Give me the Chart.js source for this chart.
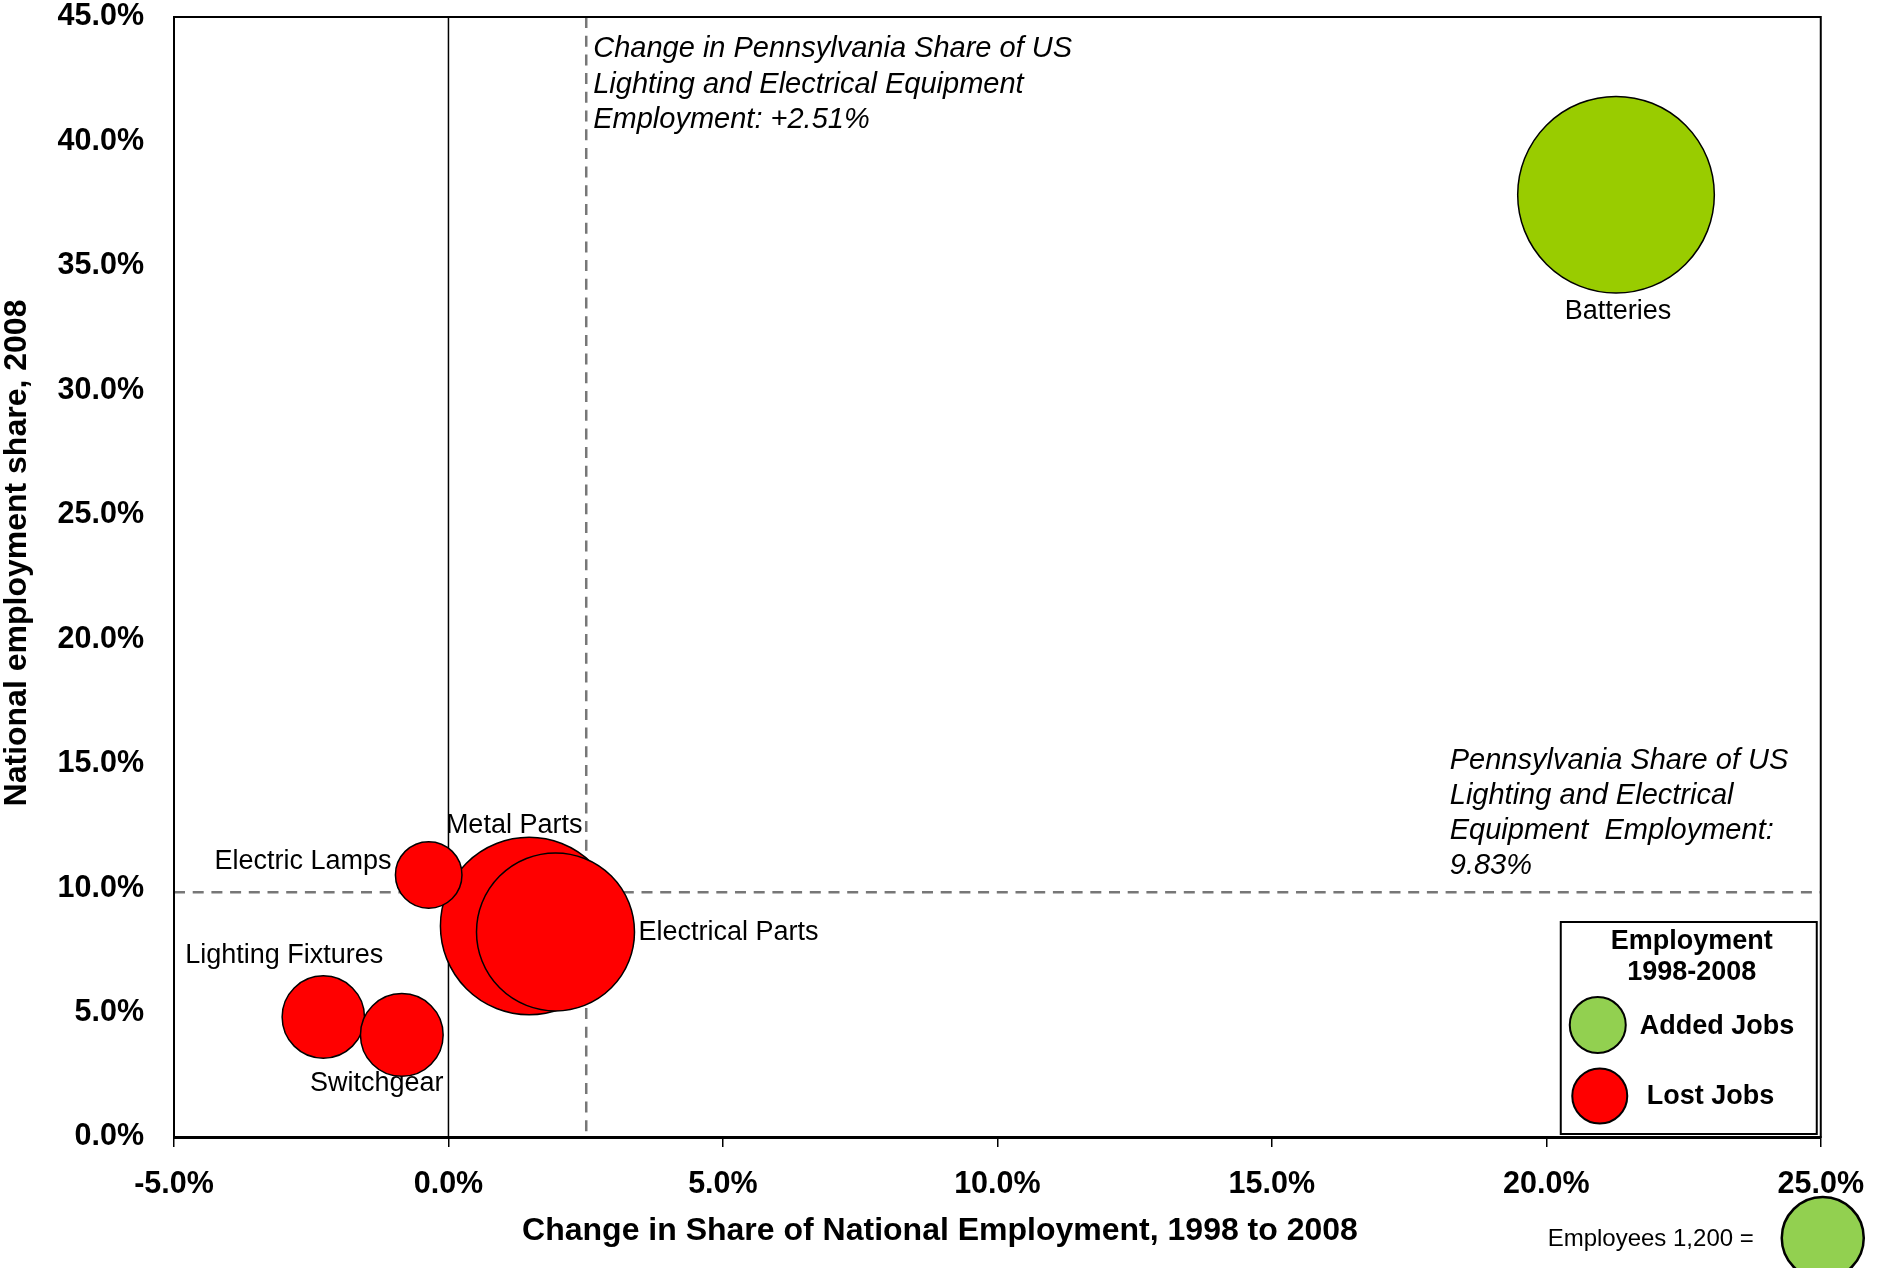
<!DOCTYPE html>
<html>
<head>
<meta charset="utf-8">
<title>Lighting and Electrical Equipment Employment</title>
<script src="https://cdn.jsdelivr.net/npm/chart.js@4/dist/chart.umd.min.js"></script>
<style>
    html, body { margin: 0; padding: 0; background: #fff; }
    #wrap { width: 1883px; height: 1268px; position: relative; }
</style>
</head>
<body>
<div id="wrap"><canvas id="chart"></canvas></div>
<script>
// industry groups, drawing order (later ones sit on top)
const sectors = ['Batteries', 'Metal Parts', 'Electrical Parts', 'Electric Lamps', 'Lighting Fixtures', 'Switchgear'];
// change in share of national employment 1998-2008, %
const shareChange = [21.27, 1.47, 1.95, -0.36, -2.28, -0.85];
// national employment share 2008, %
const nationalShare = [37.86, 8.48, 8.24, 10.53, 4.82, 4.10];
// employees (bubble size)
const employees = [6900, 5620, 4455, 790, 1210, 1220];
// did the group add or lose jobs 1998-2008
const jobTrend = ['Added', 'Lost', 'Lost', 'Lost', 'Lost', 'Lost'];

// Pennsylvania reference values
const paShareChange = 2.51;
const paShare = 9.83;
const sizeKeyEmployees = 1200;

const xTicks = [-5, 0, 5, 10, 15, 20, 25];
const yTicks = [0, 5, 10, 15, 20, 25, 30, 35, 40, 45];

const FONT = "'Liberation Sans', Arial, sans-serif";
const GREEN = '#99CC00';
const KEY_GREEN = '#92D050';
const RED = '#FF0000';

function bubbleRadius(n) {
    return 41 * Math.sqrt(n / sizeKeyEmployees);
}

function pointsFor(trend) {
    const pts = [];
    sectors.forEach((name, i) => {
        if (jobTrend[i] === trend) {
            pts.push({ x: shareChange[i], y: nationalShare[i], r: bubbleRadius(employees[i]), name: name });
        }
    });
    return pts;
}

// where each bubble label goes, relative to the bubble edge
const labelSpots = {
    'Batteries': { side: 'below', dx: 2, dy: 19 },
    'Metal Parts': { side: 'above', dx: -15, dy: 12 },
    'Electrical Parts': { side: 'right', dx: 4, dy: 1 },
    'Electric Lamps': { side: 'left', dx: 4, dy: -13 },
    'Lighting Fixtures': { side: 'above', dx: -39, dy: 20 },
    'Switchgear': { side: 'below', dx: -25, dy: 7 }
};

function circle(c, x, y, r, fill, lw) {
    c.beginPath();
    c.arc(x, y, r, 0, Math.PI * 2);
    c.fillStyle = fill;
    c.fill();
    c.lineWidth = lw;
    c.strokeStyle = '#000';
    c.stroke();
}

const backdrop = {
    id: 'backdrop',
    beforeDatasetsDraw(chart) {
        const c = chart.ctx;
        const a = chart.chartArea;
        const xs = chart.scales.x;
        const ys = chart.scales.y;
        c.save();

        // zero line
        const x0 = xs.getPixelForValue(0);
        c.strokeStyle = '#000';
        c.lineWidth = 1.5;
        c.beginPath();
        c.moveTo(x0, a.top);
        c.lineTo(x0, a.bottom);
        c.stroke();

        // Pennsylvania reference lines
        c.strokeStyle = '#777777';
        c.lineWidth = 2.5;
        c.setLineDash([11, 7.7]);
        const xp = xs.getPixelForValue(paShareChange);
        c.beginPath();
        c.moveTo(xp, a.top);
        c.lineTo(xp, a.bottom);
        c.stroke();
        const yp = ys.getPixelForValue(paShare);
        c.beginPath();
        c.moveTo(a.left, yp);
        c.lineTo(a.right, yp);
        c.stroke();
        c.setLineDash([]);

        // notes on the reference lines
        c.fillStyle = '#000';
        c.font = 'italic 29px ' + FONT;
        c.textAlign = 'left';
        c.textBaseline = 'middle';
        const topNote = [
            'Change in Pennsylvania Share of US',
            'Lighting and Electrical Equipment',
            'Employment: +' + paShareChange.toFixed(2) + '%'
        ];
        topNote.forEach((t, i) => c.fillText(t, xp + 7, a.top + 32 + i * 35.5));
        const sideNote = [
            'Pennsylvania Share of US',
            'Lighting and Electrical',
            'Equipment  Employment:',
            paShare.toFixed(2) + '%'
        ];
        sideNote.forEach((t, i) => c.fillText(t, a.right - 371, yp - 26 - (sideNote.length - 1 - i) * 35.3));
        c.restore();
    },
    afterDatasetsDraw(chart) {
        const c = chart.ctx;
        const a = chart.chartArea;
        c.save();

        // bubble labels
        c.fillStyle = '#000';
        c.font = '27px ' + FONT;
        c.textBaseline = 'middle';
        chart.data.datasets.forEach((ds, di) => {
            chart.getDatasetMeta(di).data.forEach((el, j) => {
                const name = ds.data[j].name;
                const s = labelSpots[name];
                const r = el.options.radius;
                let x = el.x, y = el.y;
                if (s.side === 'below') { x += s.dx; y += r + s.dy; c.textAlign = 'center'; }
                if (s.side === 'above') { x += s.dx; y -= r + s.dy; c.textAlign = 'center'; }
                if (s.side === 'left') { x -= r + s.dx; y += s.dy; c.textAlign = 'right'; }
                if (s.side === 'right') { x += r + s.dx; y += s.dy; c.textAlign = 'left'; }
                c.fillText(name, x, y);
            });
        });

        // frame around the plot
        c.strokeStyle = '#000';
        c.lineWidth = 2;
        c.strokeRect(a.left, a.top, a.right - a.left, a.bottom - a.top);

        // legend box
        const bx = a.right - 260, by = a.bottom - 215, bw = 256, bh = 212;
        c.fillStyle = '#fff';
        c.fillRect(bx, by, bw, bh);
        c.lineWidth = 2;
        c.strokeRect(bx, by, bw, bh);
        c.fillStyle = '#000';
        c.font = 'bold 27px ' + FONT;
        c.textAlign = 'center';
        c.fillText('Employment', bx + 131, by + 20);
        c.fillText('1998-2008', bx + 131, by + 51);
        circle(c, bx + 37, by + 103, 28, KEY_GREEN, 2);
        circle(c, bx + 39, by + 174, 27.5, RED, 2);
        c.fillStyle = '#000';
        c.textAlign = 'left';
        c.fillText('Added Jobs', bx + 79, by + 105);
        c.fillText('Lost Jobs', bx + 86, by + 175);

        // bubble size key
        const kx = a.right + 2, ky = a.bottom + 101;
        circle(c, kx, ky, bubbleRadius(sizeKeyEmployees), KEY_GREEN, 2.5);
        c.fillStyle = '#000';
        c.font = '24px ' + FONT;
        c.textAlign = 'right';
        c.fillText('Employees ' + sizeKeyEmployees.toLocaleString('en-US') + ' =', kx - 69, ky + 1);

        // axis titles
        c.font = 'bold 32px ' + FONT;
        c.textAlign = 'center';
        c.fillText('Change in Share of National Employment, 1998 to 2008', a.left + 766, a.bottom + 94);
        c.save();
        c.translate(17, a.top + 536);
        c.rotate(-Math.PI / 2);
        c.fillText('National employment share, 2008', 0, 0);
        c.restore();

        c.restore();
    }
};

new Chart(document.getElementById('chart'), {
    type: 'bubble',
    data: {
        datasets: [
            {
                label: 'Added Jobs',
                data: pointsFor('Added'),
                backgroundColor: GREEN,
                borderColor: '#000',
                borderWidth: 1.5,
                hoverRadius: 0
            },
            {
                label: 'Lost Jobs',
                data: pointsFor('Lost'),
                backgroundColor: RED,
                borderColor: '#000',
                borderWidth: 1.5,
                hoverRadius: 0
            }
        ]
    },
    options: {
        responsive: true,
        maintainAspectRatio: false,
        animation: false,
        events: [],
        layout: {
            autoPadding: false,
            padding: { top: 17, right: 57, left: 0, bottom: 0 }
        },
        plugins: {
            legend: { display: false },
            tooltip: { enabled: false }
        },
        scales: {
            x: {
                type: 'linear',
                min: xTicks[0],
                max: xTicks[xTicks.length - 1],
                afterBuildTicks: (scale) => { scale.ticks = xTicks.map(v => ({ value: v })); },
                afterFit: (scale) => { scale.height = 131; },
                grid: {
                    drawOnChartArea: false,
                    drawTicks: true,
                    tickLength: 10,
                    color: '#000',
                    lineWidth: 1.5
                },
                border: { display: true, color: '#000', width: 3 },
                ticks: {
                    padding: 19,
                    color: '#000',
                    font: { family: FONT, size: 30.5, weight: 'bold' },
                    callback: (v) => Number(v).toFixed(1) + '%'
                }
            },
            y: {
                type: 'linear',
                min: yTicks[0],
                max: yTicks[yTicks.length - 1],
                afterBuildTicks: (scale) => { scale.ticks = yTicks.map(v => ({ value: v })); },
                afterFit: (scale) => {
                    scale.width = 174;
                    scale.paddingTop = 0;
                    scale.paddingBottom = 0;
                },
                grid: {
                    drawOnChartArea: false,
                    drawTicks: false
                },
                border: { display: true, color: '#000', width: 2 },
                ticks: {
                    padding: 30,
                    color: '#000',
                    font: { family: FONT, size: 30.5, weight: 'bold' },
                    callback: (v) => Number(v).toFixed(1) + '%'
                }
            }
        }
    },
    plugins: [backdrop]
});
</script>
</body>
</html>
